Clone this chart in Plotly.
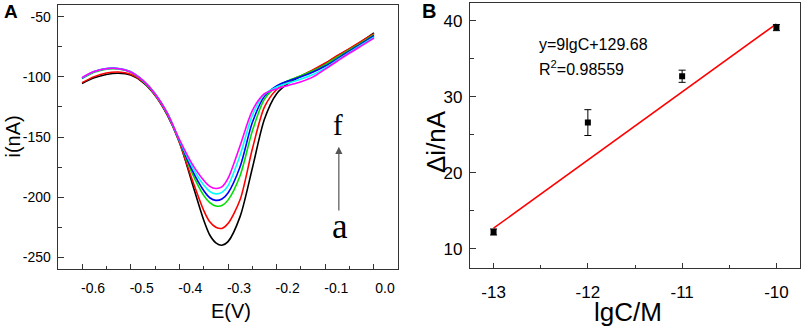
import plotly.graph_objects as go

# ---------- Panel A data ----------
E = [-0.600, -0.575, -0.550, -0.525, -0.500, -0.475, -0.450, -0.425, -0.400, -0.375,
     -0.350, -0.3375, -0.325, -0.3125, -0.300, -0.275, -0.250, -0.225, -0.200, -0.175,
     -0.150, -0.125, -0.100, -0.075, -0.050, -0.025, 0.000]
curve_a = [-105.5, -100.8, -98.0, -97.0, -98.5, -104.5, -115.2, -131.5, -154.0, -186.5,
           -219.0, -231.5, -238.0, -240.0, -237.0, -216.0, -176.0, -135.0, -114.0, -105.0,
           -99.5, -94.5, -89.0, -82.5, -76.8, -70.5, -63.5]
curve_b = [-104.8, -99.8, -96.8, -96.0, -97.8, -104.0, -115.0, -131.0, -154.5, -184.0,
           -211.0, -220.5, -225.0, -226.0, -222.0, -202.0, -160.0, -125.0, -110.5, -103.8,
           -99.0, -94.0, -88.5, -82.2, -76.3, -70.2, -64.2]
curve_c = [-101.5, -96.2, -93.6, -93.5, -96.2, -103.5, -114.5, -130.5, -153.5, -179.0,
           -198.5, -204.5, -207.3, -207.0, -202.5, -182.0, -145.0, -118.5, -108.0, -103.0,
           -99.0, -95.0, -89.8, -83.5, -77.5, -71.3, -65.0]
curve_d = [-101.0, -95.6, -93.0, -93.0, -95.8, -103.0, -114.0, -130.0, -153.0, -176.5,
           -194.5, -200.5, -202.7, -201.5, -196.5, -174.5, -138.0, -116.0, -107.5, -103.2,
           -100.0, -96.0, -91.0, -84.8, -78.5, -72.2, -65.8]
curve_e = [-100.8, -95.6, -93.2, -93.2, -95.8, -103.0, -114.0, -130.0, -152.5, -173.5,
           -190.0, -195.3, -197.3, -196.0, -190.5, -165.0, -132.0, -114.5, -108.5, -105.0,
           -101.8, -98.0, -92.5, -86.0, -79.5, -73.2, -67.0]
curve_f = [-100.6, -95.6, -93.2, -93.2, -96.0, -103.0, -114.0, -130.0, -152.0, -171.5,
           -186.0, -191.0, -192.8, -191.5, -184.5, -157.0, -128.0, -114.0, -110.0, -107.0,
           -104.0, -100.0, -93.5, -86.8, -80.2, -74.0, -67.8]
curve_names = ["a", "b", "c", "d", "e", "f"]
curve_colors = ["#000000", "#ff0000", "#00e000", "#0000ff", "#00ffff", "#ff00ff"]

xA_ticks = [-0.6, -0.5, -0.4, -0.3, -0.2, -0.1, 0.0]
xA_text = ["-0.6", "-0.5", "-0.4", "-0.3", "-0.2", "-0.1", "0.0"]
yA_ticks = [-250, -200, -150, -100, -50]
yA_text = ["-250", "-200", "-150", "-100", "-50"]

# ---------- Panel B data ----------
lgC = [-13, -12, -11, -10]
delta_i = [12.2, 26.6, 32.7, 39.1]
delta_err = [0.4, 1.7, 0.8, 0.4]
fit_x = [-13, -10]
fit_y = [12.7, 39.6]

xB_ticks = [-13, -12, -11, -10]
xB_text = ["-13", "-12", "-11", "-10"]
yB_ticks = [10, 20, 30, 40]
yB_text = ["10", "20", "30", "40"]

W, H = 803, 326
SANS = "Liberation Sans, Arial, sans-serif"
SERIF = "Liberation Serif, Times New Roman, serif"
AX = "#333333"

def px(x):
    return x / W

def py(y):
    return 1 - y / H

fig = go.Figure()

for ys, nm, col in zip([curve_a, curve_b, curve_c, curve_d, curve_e, curve_f], curve_names, curve_colors):
    fig.add_trace(go.Scatter(x=E, y=ys, mode="lines", name=nm,
                             line=dict(color=col, width=1.6, shape="spline", smoothing=0.8),
                             xaxis="x", yaxis="y", showlegend=False))

fig.add_trace(go.Scatter(x=fit_x, y=fit_y, mode="lines", line=dict(color="#ff0000", width=1.5),
                         xaxis="x2", yaxis="y2", showlegend=False))
fig.add_trace(go.Scatter(x=lgC, y=delta_i, mode="markers",
                         marker=dict(symbol="square", size=6, color="#000000"),
                         error_y=dict(type="data", array=delta_err, color="#000000", thickness=1, width=3.5),
                         xaxis="x2", yaxis="y2", showlegend=False))

common = dict(showgrid=False, zeroline=False, showline=True, linecolor=AX, linewidth=1.3,
              mirror=True, ticks="inside", tickcolor=AX, tickwidth=1.2, automargin=False)

fig.update_layout(
    template="none",
    width=W, height=H,
    margin=dict(l=0, r=0, t=0, b=0, pad=0),
    paper_bgcolor="white", plot_bgcolor="white",
    font=dict(family=SANS, color="#000000"),
    xaxis=dict(domain=[px(57.7), px(398.3)], range=[-0.65, 0.05], anchor="y",
               tickmode="array", tickvals=xA_ticks, ticktext=xA_text, ticklen=5,
               minor=dict(tickmode="linear", tick0=-0.6, dtick=0.05, ticks="inside", ticklen=3, tickcolor=AX),
               tickfont=dict(size=14, family=SANS), ticklabelshift=11, ticklabelstandoff=6, **common),
    yaxis=dict(domain=[py(269.3), py(4.7)], range=[-260, -40], anchor="x",
               tickmode="array", tickvals=yA_ticks, ticktext=yA_text, ticklen=6,
               minor=dict(tickmode="linear", tick0=-250, dtick=25, ticks="inside", ticklen=4, tickcolor=AX),
               tickfont=dict(size=14, family=SANS), ticklabelstandoff=3, **common),
    xaxis2=dict(domain=[px(470), px(800)], range=[-13.25, -9.75], anchor="y2",
                tickmode="array", tickvals=xB_ticks, ticktext=xB_text, ticklen=5,
                minor=dict(tickmode="linear", tick0=-13, dtick=0.5, ticks="inside", ticklen=3, tickcolor=AX),
                tickfont=dict(size=17, family=SANS), ticklabelstandoff=9, **common),
    yaxis2=dict(domain=[py(267.7), py(3.3)], range=[7.5, 42.3], anchor="x2",
                tickmode="array", tickvals=yB_ticks, ticktext=yB_text, ticklen=6,
                minor=dict(tickmode="linear", tick0=10, dtick=5, ticks="inside", ticklen=4, tickcolor=AX),
                tickfont=dict(size=17, family=SANS), ticklabelstandoff=3, **common),
)

ann = []
# panel letters
ann.append(dict(text="<b>A</b>", x=px(2), y=py(11.5), xref="paper", yref="paper",
                xanchor="left", yanchor="middle", showarrow=False, font=dict(size=19, family=SANS)))
ann.append(dict(text="<b>B</b>", x=px(420), y=py(10.5), xref="paper", yref="paper",
                xanchor="left", yanchor="middle", showarrow=False, font=dict(size=20, family=SANS)))
# axis titles
ann.append(dict(text="E(V)", x=px(231), y=py(311), xref="paper", yref="paper",
                xanchor="center", yanchor="middle", showarrow=False, font=dict(size=20, family=SANS)))
ann.append(dict(text="i(nA)", x=px(12.5), y=py(137), xref="paper", yref="paper", textangle=-90,
                xanchor="center", yanchor="middle", showarrow=False, font=dict(size=20, family=SANS)))
ann.append(dict(text="lgC/M", x=px(628), y=py(312), xref="paper", yref="paper",
                xanchor="center", yanchor="middle", showarrow=False, font=dict(size=26, family=SANS)))
ann.append(dict(text="Δi/nA", x=px(436), y=py(141), xref="paper", yref="paper", textangle=-90,
                xanchor="center", yanchor="middle", showarrow=False, font=dict(size=26, family=SANS)))
# equation
ann.append(dict(text="y=9lgC+129.68", x=px(537), y=py(44), xref="paper", yref="paper",
                xanchor="left", yanchor="middle", showarrow=False, font=dict(size=16, family=SANS)))
ann.append(dict(text="R<sup>2</sup>=0.98559", x=px(537), y=py(68), xref="paper", yref="paper",
                xanchor="left", yanchor="middle", showarrow=False, font=dict(size=16, family=SANS)))
# a -> f arrow
ann.append(dict(text="", x=-0.0722, y=-158.2, ax=-0.0722, ay=-212.3, xref="x", yref="y",
                axref="x", ayref="y", showarrow=True, arrowhead=2, arrowsize=1.2, arrowwidth=1.2,
                arrowcolor="#555555"))
ann.append(dict(text="f", x=px(338), y=py(125), xref="paper", yref="paper",
                xanchor="center", yanchor="middle", showarrow=False, font=dict(size=29, family=SERIF)))
ann.append(dict(text="a", x=px(340), y=py(226), xref="paper", yref="paper",
                xanchor="center", yanchor="middle", showarrow=False, font=dict(size=35, family=SERIF)))

fig.update_layout(annotations=ann)
fig.write_html("out.html",
               config={"displayModeBar": False},
               post_script="document.body.style.margin='0';document.body.style.padding='0';"
                           "document.body.style.overflow='hidden';")
